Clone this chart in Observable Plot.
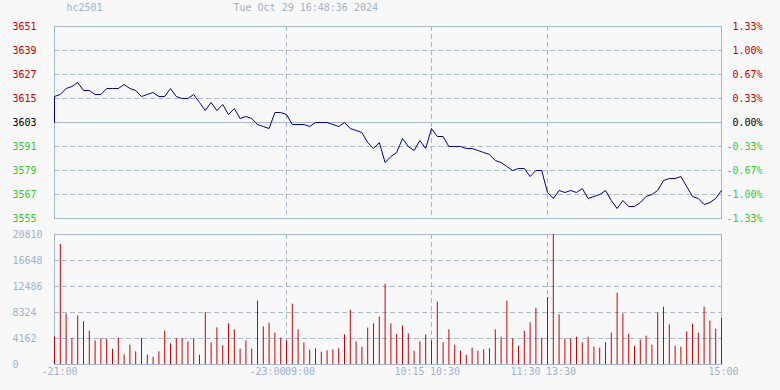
<!DOCTYPE html>
<html><head><meta charset="utf-8">
<script src="https://cdn.jsdelivr.net/npm/d3@7"></script>
<script src="https://cdn.jsdelivr.net/npm/@observablehq/plot@0.6"></script>
<style>
html,body{margin:0;padding:0;background:#f8f8f8;}
#chart{width:780px;height:390px;overflow:hidden;}
#chart svg{display:block;}
</style></head><body><div id="chart"></div>
<script>
const symbol = "hc2501";
const timestamp = "Tue Oct 29 16:48:36 2024";
const prevClose = 3603;
const stepMinutes = 3;
const sessionMinutes = 345;

const prices = [
  3616,3617,3620,3621,3623,3619,3619,3617,3617,3620,
  3620,3620,3622,3620,3619,3616,3617,3618,3616,3616,
  3620,3616,3615,3615,3617,3613,3609,3613,3609,3612,
  3607,3610,3605,3606,3605,3602,3601,3600,3608,3608,
  3607,3602,3602,3602,3601,3603,3603,3603,3602,3601,
  3603,3600,3599,3598,3593,3590,3593,3583,3586,3588,
  3595,3591,3589,3594,3590,3600,3596,3596,3591,3591,
  3591,3590,3590,3589,3588,3587,3584,3583,3581,3579,
  3580,3580,3576,3579,3579,3568,3565,3569,3568,3569,
  3568,3570,3565,3566,3567,3569,3564,3560,3564,3561,
  3561,3563,3566,3567,3569,3574,3575,3575,3576,3571,
  3566,3565,3562,3563,3565,3569
];

const volumes = [
  4429,19210,8111,4162,7790,6830,5336,3789,4162,4055,
  2455,4215,1547,3095,2028,4162,1494,1174,2028,5336,
  3308,4162,4162,3628,4055,1494,8324,3468,5870,2988,
  6510,5549,2455,3789,2455,10138,6030,6617,5016,4215,
  3789,9658,5549,3468,2294,2508,1974,2188,2348,2508,
  4749,8698,3628,2775,5816,6510,7577,12860,6510,4802,
  6190,4909,2134,3628,4749,3789,9978,3468,5549,3095,
  2134,1494,2615,2134,2348,2508,5549,4376,10138,4109,
  2935,5336,6670,9018,4215,10725,20810,7951,4109,4109,
  4376,3468,4376,2775,2615,3468,5016,11419,8111,4856,
  2935,3895,4536,3095,8217,9178,6350,2935,2775,5229,
  6457,5016,9178,6937,5656,7364
];

const priceTicks = [3555,3567,3579,3591,3603,3615,3627,3639,3651];
const pctLabels = ["-1.33%","-1.00%","-0.67%","-0.33%","0.00%","0.33%","0.67%","1.00%","1.33%"];
const volumeTicks = [0,4162,8324,12486,16648,20810];
const timeTickMinutes = [0,120,120,195,195,255,255,345];
const timeTickLabels = ["-21:00","-23:00","09:00","10:15","10:30","11:30","13:30","15:00"];
const sessionBreaks = [120,195,255];

const frameColor = "#a3b8d3";
const gridColor = "#a9b8cb";
const lineColor = "#000099";
const barColor = "#cc0000";
const upColor = "#cc0000";
const downColor = "#33cc33";
const mutedColor = "#9fb2cc";
const dash = "5,3";
const font = {background:"transparent", fontFamily:"DejaVu Sans Mono", fontSize:"10px", overflow:"visible"};

const W = 780, mL = 54, mR = 59;
const lineData = [{m:0, p:prevClose}, ...prices.map((p,i)=>({m:i*stepMinutes, p}))];
const tickRows = priceTicks.map((v,i)=>({v, pct:pctLabels[i]}));
const up = tickRows.filter(d=>d.v>prevClose), dn = tickRows.filter(d=>d.v<prevClose), eq = tickRows.filter(d=>d.v===prevClose);

function labelMarks(rows, fill){
  return [
    Plot.text(rows, {y:"v", text:d=>String(d.v), frameAnchor:"left", dx:-42, textAnchor:"start", lineAnchor:"middle", fill}),
    Plot.text(rows, {y:"v", text:"pct", frameAnchor:"right", dx:41, textAnchor:"end", lineAnchor:"middle", fill})
  ];
}

const pricePlot = Plot.plot({
  width: W, height: 227, marginTop: 26, marginBottom: 9, marginLeft: mL, marginRight: mR,
  x: {domain:[0, sessionMinutes], axis:null},
  y: {domain:[priceTicks[0], priceTicks[priceTicks.length-1]], axis:null},
  style: font,
  marks: [
    Plot.ruleY(priceTicks.slice(1,-1).filter(v=>v!==prevClose), {stroke:gridColor, strokeDasharray:dash}),
    Plot.ruleX(sessionBreaks, {stroke:gridColor, strokeDasharray:dash}),
    Plot.ruleY([prevClose], {stroke:frameColor}),
    Plot.frame({stroke:frameColor}),
    Plot.line(lineData, {x:"m", y:"p", stroke:lineColor, strokeWidth:1}),
    ...labelMarks(up, upColor),
    ...labelMarks(dn, downColor),
    ...labelMarks(eq, "#000000"),
    Plot.text([symbol], {text:d=>d, frameAnchor:"top-left", dx:12, dy:-19, textAnchor:"start", lineAnchor:"middle", fill:mutedColor}),
    Plot.text([timestamp], {text:d=>d, frameAnchor:"top-left", dx:179, dy:-19, textAnchor:"start", lineAnchor:"middle", fill:mutedColor})
  ]
});

const volData = volumes.map((v,i)=>({m:i*stepMinutes, v}));
const tt = timeTickMinutes.map((m,i)=>({m, label:timeTickLabels[i], i}));
const last = tt.length-1;
const outer = tt.filter(d=>d.i===0 || d.i===last);
const ends = tt.filter(d=>d.i!==0 && d.i!==last && d.i%2===1);
const starts = tt.filter(d=>d.i!==0 && d.i!==last && d.i%2===0);
const xLab = (rows, dx) => Plot.text(rows, {x:"m", text:"label", frameAnchor:"bottom", dy:7, dx, textAnchor:"start", lineAnchor:"middle", fill:mutedColor});

const volPlot = Plot.plot({
  width: W, height: 163, marginTop: 7, marginBottom: 26, marginLeft: mL, marginRight: mR,
  x: {domain:[0, sessionMinutes], axis:null},
  y: {domain:[0, volumeTicks[volumeTicks.length-1]], axis:null},
  style: font,
  marks: [
    Plot.ruleY(volumeTicks.slice(1,-1), {stroke:gridColor, strokeDasharray:dash}),
    Plot.ruleX(sessionBreaks, {stroke:gridColor, strokeDasharray:dash}),
    Plot.frame({stroke:frameColor}),
    Plot.ruleX(volData, {x:"m", y1:0, y2:"v", stroke:barColor, strokeWidth:1}),
    Plot.text(volumeTicks, {y:d=>d, text:d=>String(d), frameAnchor:"left", dx:-42, textAnchor:"start", lineAnchor:"middle", fill:mutedColor}),
    xLab(outer, -13),
    xLab(ends, -37),
    xLab(starts, -1.5)
  ]
});

const c = document.getElementById("chart");
c.appendChild(pricePlot);
c.appendChild(volPlot);
</script></body></html>
